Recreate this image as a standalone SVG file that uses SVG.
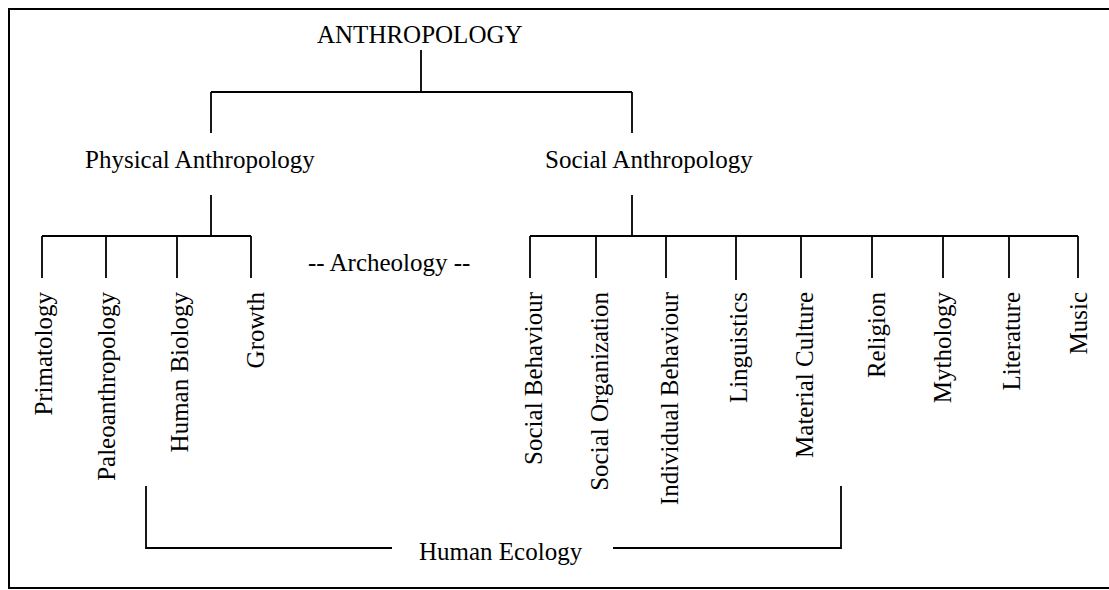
<svg xmlns="http://www.w3.org/2000/svg" width="1109" height="590" viewBox="0 0 1109 590">
  <style>
    .t { font-family: "Liberation Serif", "Times New Roman", serif; font-size: 25px; fill: #000; }
    .v { text-anchor: end; }
    .ln { stroke: #000; stroke-width: 1.8; fill: none; }
  </style>
  <rect x="0" y="0" width="1109" height="590" fill="#fff"/>
  <!-- outer frame (right edge runs off the page) -->
  <rect x="9" y="9" width="1112" height="579" fill="none" stroke="#000" stroke-width="2"/>

  <g id="connectors" class="ln">
    <!-- root to the two branches -->
    <path d="M421 50 V92 M211 92 H632 M211 92 V133 M632 92 V133"/>
    <!-- physical branch -->
    <path d="M211 195 V236 M42 236 H251 M42 236 V278 M106 236 V278 M177 236 V278 M251 236 V278"/>
    <!-- social branch -->
    <path d="M632 195 V236 M530 236 H1078 M530 236 V278 M596 236 V278 M666 236 V278 M736 236 V280 M801 236 V278 M872 236 V278 M943 236 V278 M1009 236 V278 M1078 236 V278"/>
    <!-- human ecology bracket -->
    <path d="M146 486 V548 H392 M613 548 H841 V486"/>
  </g>

  <g id="anthropology"><text class="t" x="317" y="43">ANTHROPOLOGY</text></g>
  <g id="physical"><text class="t" x="85" y="168">Physical Anthropology</text></g>
  <g id="social"><text class="t" x="545" y="168">Social Anthropology</text></g>
  <g id="archeology"><text class="t" x="308" y="271">-- Archeology --</text></g>

  <g id="primatology"><text class="t v" transform="translate(52 292) rotate(-90)">Primatology</text></g>
  <g id="paleoanthropology"><text class="t v" transform="translate(115 292) rotate(-90)">Paleoanthropology</text></g>
  <g id="human-biology"><text class="t v" transform="translate(188 292) rotate(-90)">Human Biology</text></g>
  <g id="growth"><text class="t v" transform="translate(264 292) rotate(-90)">Growth</text></g>

  <g id="social-behaviour"><text class="t v" transform="translate(541.5 292) rotate(-90)">Social Behaviour</text></g>
  <g id="social-organization"><text class="t v" transform="translate(607.5 292) rotate(-90)">Social Organization</text></g>
  <g id="individual-behaviour"><text class="t v" transform="translate(678 292) rotate(-90)">Individual Behaviour</text></g>
  <g id="linguistics"><text class="t v" transform="translate(747 292) rotate(-90)">Linguistics</text></g>
  <g id="material-culture"><text class="t v" transform="translate(813 292) rotate(-90)">Material Culture</text></g>
  <g id="religion"><text class="t v" transform="translate(885 292) rotate(-90)">Religion</text></g>
  <g id="mythology"><text class="t v" transform="translate(950.5 292) rotate(-90)">Mythology</text></g>
  <g id="literature"><text class="t v" transform="translate(1020 292) rotate(-90)">Literature</text></g>
  <g id="music"><text class="t v" transform="translate(1087 292) rotate(-90)">Music</text></g>

  <g id="human-ecology"><text class="t" x="419" y="560">Human Ecology</text></g>
</svg>
